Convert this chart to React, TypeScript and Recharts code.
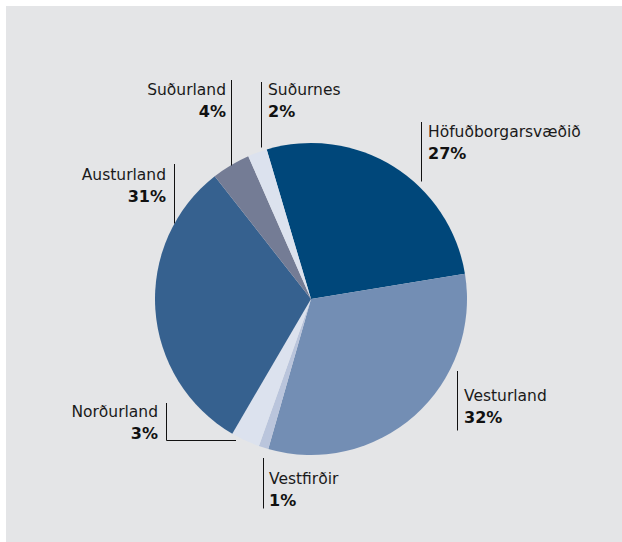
import React from "react";
import { PieChart, Pie, Cell } from "recharts";

// Skipting eftir landshlutum (%)
const regions = [
  "Höfuðborgarsvæðið",
  "Vesturland",
  "Vestfirðir",
  "Norðurland",
  "Austurland",
  "Suðurland",
  "Suðurnes",
];
const shares = [27, 32, 1, 3, 31, 4, 2];
const colors = [
  "#00477A",
  "#738EB4",
  "#BAC5DC",
  "#DCE2EE",
  "#36618F",
  "#747C95",
  "#DCE2EE",
];

// label placement relative to the pie centre
const labelLayout = [
  { lx: 110, y1: -177, y2: -118, tx: 117, anchor: "start", ny: -163 },
  { lx: 146, y1: 72, y2: 131, tx: 153, anchor: "start", ny: 101 },
  { lx: -48, y1: 159, y2: 209, tx: -42, anchor: "start", ny: 184 },
  { lx: -145, y1: 104, y2: 141, hx: -75, tx: -153, anchor: "end", ny: 117 },
  { lx: -137, y1: -135, y2: -76, tx: -145, anchor: "end", ny: -120 },
  { lx: -80, y1: -219, y2: -134, tx: -85, anchor: "end", ny: -205 },
  { lx: -50, y1: -217, y2: -152, tx: -43, anchor: "start", ny: -205 },
];

const data = regions.map((name, i) => ({ name, value: shares[i] }));

const font = "'DejaVu Sans', sans-serif";

const renderLabel = (props: any) => {
  const { cx, cy, index, name, value } = props;
  const l = labelLayout[index];
  const x = Math.round(cx + l.lx) + 0.5;
  const yEnd = Math.round(cy + l.y2) + 0.5;
  return (
    <g>
      <line x1={x} y1={cy + l.y1} x2={x} y2={yEnd} stroke="#111" strokeWidth={1} />
      {l.hx !== undefined && (
        <line x1={x} y1={yEnd} x2={cx + l.hx} y2={yEnd} stroke="#111" strokeWidth={1} />
      )}
      <text
        x={cx + l.tx}
        y={cy + l.ny + 0.5}
        textAnchor={l.anchor}
        fill="#1a1a1a"
        fontSize={15.5}
        fontFamily={font}
      >
        {name}
      </text>
      <text
        x={cx + l.tx}
        y={cy + l.ny + 23}
        textAnchor={l.anchor}
        fill="#111"
        fontSize={16}
        fontWeight={700}
        fontFamily={font}
      >
        {value}%
      </text>
    </g>
  );
};

export default function App() {
  return (
    <div
      style={{
        position: "absolute",
        left: 0,
        top: 0,
        width: 622,
        height: 542,
        background: "#ffffff",
      }}
    >
      <div
        style={{
          position: "absolute",
          left: 6,
          top: 6,
          width: 616,
          height: 536,
          background: "#E4E5E7",
        }}
      />
      <PieChart
        width={622}
        height={542}
        margin={{ top: 0, right: 0, bottom: 0, left: 0 }}
        style={{ position: "absolute", left: 0, top: 0 }}
      >
        <Pie
          data={data}
          dataKey="value"
          nameKey="name"
          cx={311}
          cy={299}
          outerRadius={156}
          startAngle={106.5}
          endAngle={-253.5}
          stroke="none"
          label={renderLabel}
          labelLine={false}
          isAnimationActive={false}
        >
          {data.map((d, i) => (
            <Cell key={d.name} fill={colors[i]} />
          ))}
        </Pie>
      </PieChart>
    </div>
  );
}
